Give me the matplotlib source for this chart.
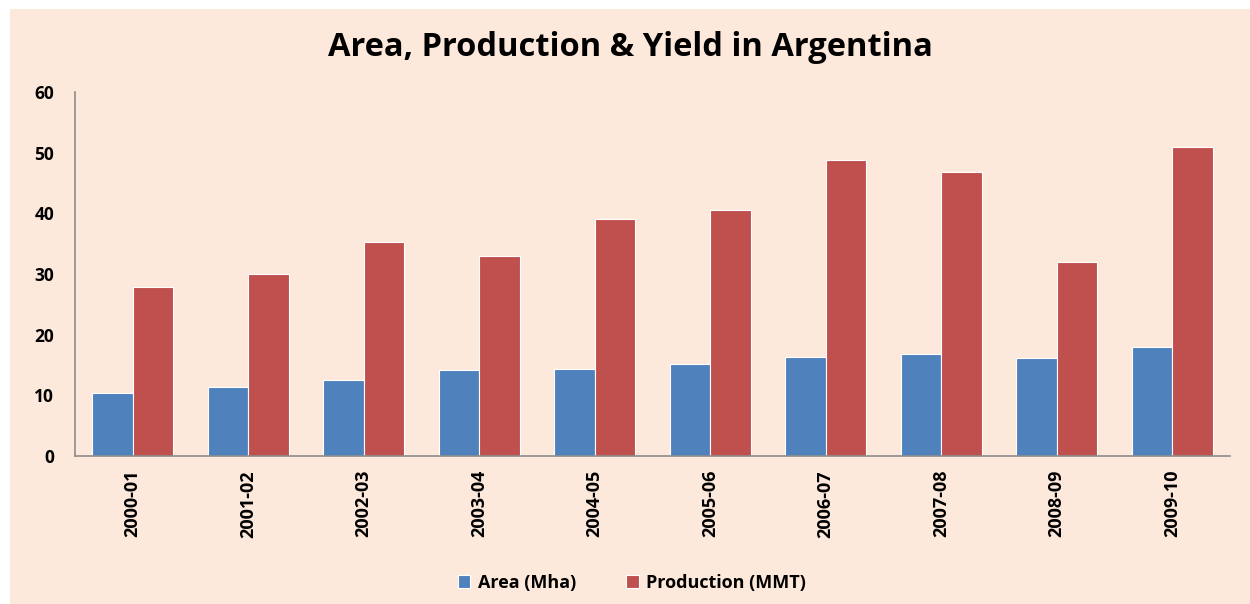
import matplotlib
matplotlib.use("Agg")
import matplotlib.pyplot as plt
import numpy as np
from matplotlib.patches import Rectangle

seasons = ["2000-01", "2001-02", "2002-03", "2003-04", "2004-05",
           "2005-06", "2006-07", "2007-08", "2008-09", "2009-10"]
area = [10.4, 11.4, 12.6, 14.2, 14.3, 15.2, 16.3, 16.8, 16.2, 18.0]
production = [27.8, 30.0, 35.3, 33.0, 39.1, 40.5, 48.8, 46.8, 32.0, 50.9]

BG = "#FDE9DB"
BLUE = "#4F81BD"
RED = "#C0504D"

plt.rcParams.update({"font.family": ["Open Sans", "DejaVu Sans"]})

fig = plt.figure(figsize=(12.5, 6.04), dpi=100)
fig.patch.set_facecolor("white")
fig.patches.append(Rectangle((10 / 1250, 0), 1 - 10 / 1250, 1 - 9 / 604,
                             transform=fig.transFigure, facecolor=BG,
                             edgecolor="none", zorder=-10))

ax = fig.add_axes([75 / 1250, (604 - 456) / 604, (1230 - 75) / 1250, (456 - 92) / 604])
ax.set_facecolor("none")

x = np.arange(len(seasons))
w = 0.35
ax.bar(x - w / 2, area, w, color=BLUE, edgecolor="white", lw=0.8, label="Area (Mha)")
ax.bar(x + w / 2, production, w, color=RED, edgecolor="white", lw=0.8, label="Production (MMT)")

ax.set_xlim(-0.5, len(seasons) - 0.5)
ax.set_ylim(0, 60)
ax.set_yticks(range(0, 61, 10))
ax.set_xticks(x)
ax.set_xticklabels(seasons, rotation=90, fontsize=13, fontweight="bold")
for lab in ax.get_yticklabels():
    lab.set_fontsize(12.5)
    lab.set_fontweight("bold")
ax.tick_params(axis="x", length=0, pad=10)
ax.tick_params(axis="y", length=0, pad=15)
for s in ["top", "right"]:
    ax.spines[s].set_visible(False)
for s in ["left", "bottom"]:
    ax.spines[s].set_color("#8c8c8c")
    ax.spines[s].set_linewidth(1.2)

fig.text(630 / 1250, 1 - 47 / 604, "Area, Production & Yield in Argentina",
         ha="center", va="center", fontsize=23.5, fontweight="bold")

fig.legend(loc="center", bbox_to_anchor=(632 / 1250, 1 - 583 / 604), ncol=2,
           frameon=False, handlelength=0.7, handleheight=0.7,
           columnspacing=2.8, handletextpad=0.4,
           prop={"weight": "bold", "size": 13})

fig.savefig("out.png", dpi=100)
